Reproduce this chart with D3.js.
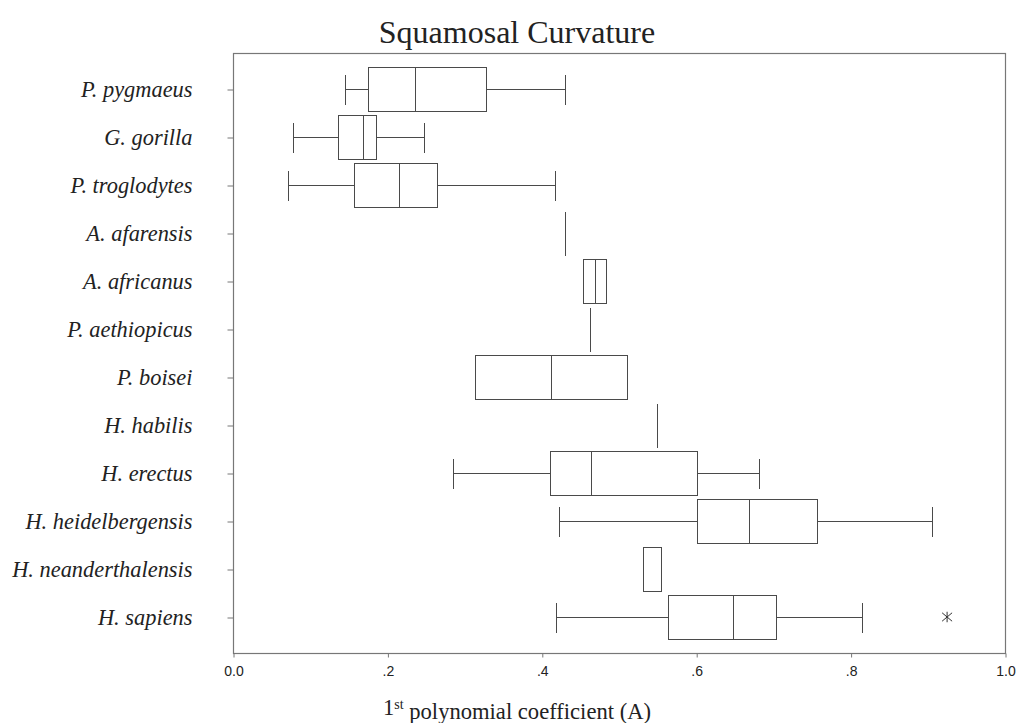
<!DOCTYPE html>
<html>
<head>
<meta charset="utf-8">
<script src="https://cdn.jsdelivr.net/npm/d3@7"></script>
<style>
  body { margin: 0; background: #fff; }
</style>
</head>
<body>
<div id="chart"></div>
<script>
// Box plot data
var species = ["P. pygmaeus", "G. gorilla", "P. troglodytes", "A. afarensis", "A. africanus",
  "P. aethiopicus", "P. boisei", "H. habilis", "H. erectus", "H. heidelbergensis",
  "H. neanderthalensis", "H. sapiens"];
var whiskerLow  = [0.145, 0.078, 0.0713, 0.4295, 0.454, 0.462, 0.314, 0.5496, 0.2856, 0.4226, 0.5305, 0.4183];
var q1          = [0.1745, 0.1365, 0.157, 0.4295, 0.454, 0.462, 0.314, 0.5496, 0.411, 0.6005, 0.5305, 0.5638];
var median      = [0.236, 0.169, 0.2156, 0.4295, 0.469, 0.462, 0.4118, 0.5496, 0.4636, 0.668, 0.5548, 0.6477];
var q3          = [0.328, 0.1853, 0.264, 0.4295, 0.483, 0.462, 0.511, 0.5496, 0.6005, 0.7565, 0.5548, 0.7034];
var whiskerHigh = [0.430, 0.248, 0.4174, 0.4295, 0.483, 0.462, 0.511, 0.5496, 0.681, 0.9056, 0.5548, 0.8153];
var outlierSpecies = ["H. sapiens"];
var outlierValues = [0.925];
var xTicks = [0, 0.2, 0.4, 0.6, 0.8, 1.0];
var xTickLabels = ["0.0", ".2", ".4", ".6", ".8", "1.0"];

// Chart params
var svgWidth = 1018;
var svgHeight = 723;
var margin = { top: 53, right: 13, bottom: 70, left: 233 };
var width = svgWidth - margin.left - margin.right;
var height = svgHeight - margin.top - margin.bottom;

var lineColor = "#4a4a4a";
var axisColor = "#777";

var svg = d3.select("#chart")
  .append("svg")
  .attr("width", svgWidth)
  .attr("height", svgHeight);

var chartGroup = svg.append("g")
  .attr("transform", `translate(${margin.left}, ${margin.top})`);

// Scales
var xScale = d3.scaleLinear()
  .domain([0, 1])
  .range([0, width]);

var yScale = d3.scalePoint()
  .domain(species)
  .range([0, height])
  .padding(0.75);

var boxH = 44;
var capH = 30;

// Frame
chartGroup.append("rect")
  .attr("x", 0.5)
  .attr("y", 0.5)
  .attr("width", width)
  .attr("height", height)
  .attr("fill", "none")
  .attr("stroke", axisColor)
  .attr("stroke-width", 1.2);

// Axes
var bottomAxis = d3.axisBottom(xScale)
  .tickValues(xTicks)
  .tickFormat((d, i) => xTickLabels[i])
  .tickSize(4)
  .tickPadding(9);

var leftAxis = d3.axisLeft(yScale)
  .tickSize(6)
  .tickPadding(35);

var xAxisG = chartGroup.append("g")
  .attr("transform", `translate(0.5, ${height + 0.5})`)
  .call(bottomAxis);
xAxisG.select(".domain").remove();
xAxisG.selectAll("line").attr("stroke", axisColor);
xAxisG.selectAll("text")
  .attr("fill", "#222")
  .style("font-family", "'Liberation Sans', Arial, sans-serif")
  .style("font-size", "14px");

var yAxisG = chartGroup.append("g")
  .attr("transform", "translate(0.5, 0.5)")
  .call(leftAxis);
yAxisG.select(".domain").remove();
yAxisG.selectAll("line").attr("stroke", axisColor);
yAxisG.selectAll("text")
  .attr("fill", "#222")
  .style("font-family", "'Liberation Serif', 'Times New Roman', serif")
  .style("font-style", "italic")
  .style("font-size", "22.4px");

// Boxes
var boxData = species.map((s, i) => ({
  species: s, lo: whiskerLow[i], q1: q1[i], med: median[i], q3: q3[i], hi: whiskerHigh[i]
}));

var boxes = chartGroup.selectAll(".box")
  .data(boxData)
  .enter()
  .append("g")
  .attr("class", "box")
  .attr("transform", d => `translate(0.5, ${Math.round(yScale(d.species)) + 0.5})`)
  .attr("stroke", lineColor)
  .attr("fill", "none")
  .attr("shape-rendering", "crispEdges");

boxes.each(function(d) {
  var g = d3.select(this);
  var px = v => Math.round(xScale(v));
  if (d.lo < d.q1) {
    g.append("line").attr("x1", px(d.lo)).attr("x2", px(d.q1)).attr("y1", 0).attr("y2", 0);
    g.append("line").attr("x1", px(d.lo)).attr("x2", px(d.lo)).attr("y1", -capH / 2).attr("y2", capH / 2);
  }
  if (d.hi > d.q3) {
    g.append("line").attr("x1", px(d.q3)).attr("x2", px(d.hi)).attr("y1", 0).attr("y2", 0);
    g.append("line").attr("x1", px(d.hi)).attr("x2", px(d.hi)).attr("y1", -capH / 2).attr("y2", capH / 2);
  }
  if (d.q3 > d.q1) {
    g.append("rect")
      .attr("x", px(d.q1))
      .attr("y", -boxH / 2)
      .attr("width", px(d.q3) - px(d.q1))
      .attr("height", boxH);
  }
  g.append("line")
    .attr("x1", px(d.med)).attr("x2", px(d.med))
    .attr("y1", -boxH / 2).attr("y2", boxH / 2);
});

// Outlier marker: X with a vertical bar
var starSymbol = {
  draw: function(context, size) {
    var r = Math.sqrt(size) / 2;
    var u = r * 0.95;
    var t = r * 0.8;
    context.moveTo(0, -r);
    context.lineTo(0, r);
    context.moveTo(-u, -t);
    context.lineTo(u, t);
    context.moveTo(-u, t);
    context.lineTo(u, -t);
  }
};

chartGroup.selectAll(".outlier")
  .data(outlierValues)
  .enter()
  .append("path")
  .attr("class", "outlier")
  .attr("transform", (d, i) => `translate(${xScale(d)}, ${yScale(outlierSpecies[i])})`)
  .attr("d", d3.symbol().type(starSymbol).size(110))
  .attr("fill", "none")
  .attr("stroke", "#333")
  .attr("stroke-width", 1);

// Title
svg.append("text")
  .attr("x", 517)
  .attr("y", 43)
  .attr("text-anchor", "middle")
  .style("font-family", "'Liberation Serif', 'Times New Roman', serif")
  .style("font-size", "32px")
  .attr("fill", "#222")
  .text("Squamosal Curvature");

// X axis label with superscript
var xLabel = svg.append("text")
  .attr("x", 517)
  .attr("y", 715)
  .attr("text-anchor", "middle")
  .style("font-family", "'Liberation Serif', 'Times New Roman', serif")
  .style("font-size", "22.6px")
  .attr("fill", "#222");
xLabel.append("tspan").text("1");
xLabel.append("tspan").attr("dy", "-0.45em").style("font-size", "14px").text("st");
xLabel.append("tspan").attr("dy", "0.45em").text(" polynomial coefficient (A)");
</script>
</body>
</html>
